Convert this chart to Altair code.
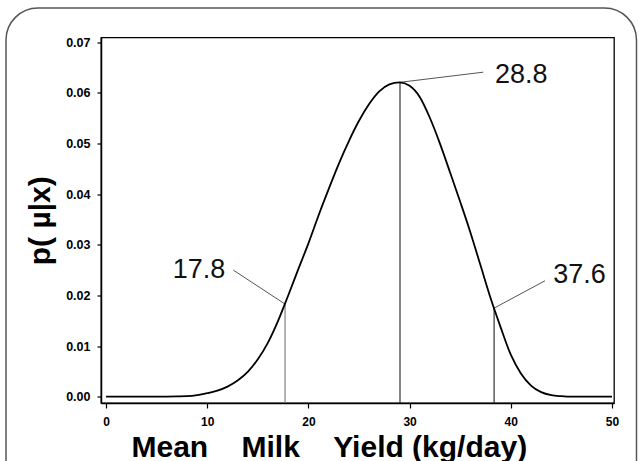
import altair as alt
import pandas as pd

# ---- data ----
yield_x = [0, 2, 4, 6, 7, 8, 9, 10, 11, 12, 13, 14, 15, 16, 17, 18, 19, 20, 21, 22,
           23, 24, 25, 26, 27, 28, 29, 30, 31, 32, 33, 34, 35, 36, 37, 38, 39, 40,
           41, 42, 43, 44, 45, 46, 48, 50]
density = [0, 0, 0, 0.00002, 0.00005, 0.0001, 0.0003, 0.0007, 0.0012, 0.0020, 0.0032,
           0.0049, 0.0074, 0.0107, 0.0150, 0.0200, 0.0252, 0.0303, 0.0358, 0.0410,
           0.0460, 0.0505, 0.0545, 0.0578, 0.0603, 0.0617, 0.0621, 0.0614, 0.0592,
           0.0551, 0.0500, 0.0443, 0.0385, 0.0325, 0.0260, 0.0195, 0.0137, 0.0083,
           0.0046, 0.0022, 0.0009, 0.0003, 0.0001, 0, 0, 0]

mark_x = [17.69, 29.05, 38.35]
mark_top = [0.0183, 0.0621, 0.0175]
label_text = ["17.8", "28.8", "37.6"]
label_x = [6.6, 38.44, 44.2]
label_y = [0.0234, 0.0619, 0.0224]
leader_x2 = [12.58, 37.28, 43.38]
leader_y2 = [0.0250, 0.0641, 0.0229]

x_ticks = [0, 10, 20, 30, 40, 50]
y_ticks = [0.0, 0.01, 0.02, 0.03, 0.04, 0.05, 0.06, 0.07]

X_TITLE = "Mean\u00a0\u00a0\u00a0\u00a0Milk\u00a0\u00a0\u00a0\u00a0Yield (kg/day)"
Y_TITLE = "p( \u00b5|x)"

FONT = "Liberation Sans, Arial, sans-serif"
PLOT_W = 513
PLOT_H = 365.5

curve_df = pd.DataFrame({"x": yield_x, "p": density})
mark_df = pd.DataFrame({
    "mx": mark_x, "mtop": mark_top, "label": label_text,
    "lx": label_x, "ly": label_y, "ex": leader_x2, "ey": leader_y2,
})

xscale = alt.Scale(domain=[-0.5, 50.2], nice=False, zero=False)
yscale = alt.Scale(domain=[-0.00124, 0.07095], nice=False, zero=False)

xaxis = alt.Axis(
    values=x_ticks, format="d", grid=False,
    title=X_TITLE, titleFont=FONT, titleFontSize=30, titleFontWeight="bold",
    titleColor="black", titleX=30, titleY=53, titleAlign="left",
    titleAnchor="start", titleBaseline="alphabetic",
    labelFont=FONT, labelFontSize=12, labelFontWeight="bold", labelColor="black",
    labelPadding=8, labelFlush=False,
    tickSize=5, tickColor="black", tickWidth=1.2,
    domainColor="black", domainWidth=1.5,
)
yaxis = alt.Axis(
    values=y_ticks, format=".2f", grid=False,
    title=Y_TITLE, titleFont=FONT, titleFontSize=30, titleFontWeight="bold",
    titleColor="black", titleX=-61, titleY=PLOT_H / 2, titleAngle=270,
    titleAlign="center", titleBaseline="middle",
    labelFont=FONT, labelFontSize=12.5, labelFontWeight="bold", labelColor="black",
    labelPadding=7, labelFlush=False,
    tickSize=4, tickColor="black", tickWidth=1.2,
    domainColor="black", domainWidth=1.5,
)


def X(field):
    return alt.X(f"{field}:Q", scale=xscale, axis=xaxis)


def Y(field):
    return alt.Y(f"{field}:Q", scale=yscale, axis=yaxis)


curve = alt.Chart(curve_df).mark_line(
    color="black", strokeWidth=1.8, interpolate="monotone"
).encode(x=X("x"), y=Y("p"))

marks = alt.Chart(mark_df)

vlines = marks.mark_rule(strokeWidth=1.1).encode(
    x=X("mx"), y=Y("mtop"), y2=alt.value(PLOT_H),
    color=alt.condition(alt.datum.label == "17.8", alt.value("#777777"), alt.value("#222222")),
)

leaders = marks.mark_rule(color="#555555", strokeWidth=1).encode(
    x=X("mx"), y=Y("mtop"), x2="ex:Q", y2="ey:Q"
)

labels = marks.mark_text(
    align="left", baseline="alphabetic", font=FONT, fontSize=27, color="#111111"
).encode(x=X("lx"), y=Y("ly"), text="label:N")

frame = alt.Chart(alt.Data(values=[{"k": 1}])).mark_rect(
    fillOpacity=0, stroke="#555555", strokeWidth=1.5, cornerRadius=32
).encode(
    x=alt.value(-95), x2=alt.value(535.5), y=alt.value(-29.5), y2=alt.value(480)
)

chart = alt.layer(frame, vlines, leaders, curve, labels).properties(
    width=PLOT_W, height=PLOT_H,
    autosize=alt.AutoSizeParams(type="none"),
    padding={"left": 101, "top": 37.5, "right": 25, "bottom": 58},
    background="white",
).configure_view(stroke="black", strokeWidth=1.3)

chart.save("out.html", embed_options={"renderer": "svg", "actions": False})
